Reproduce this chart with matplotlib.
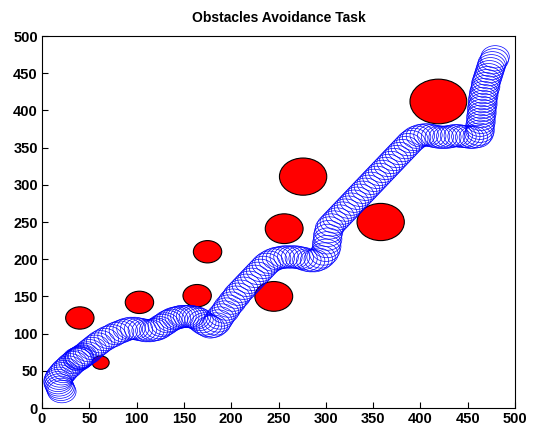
import matplotlib
matplotlib.use("Agg")
import matplotlib.pyplot as plt
from matplotlib.patches import Circle

# Obstacles (centre x, centre y, radius) in data units
obs_x = [40, 62, 103, 164, 175, 245, 256, 276, 358, 419]
obs_y = [121, 61, 142, 151, 210, 150, 241, 311, 250, 412]
obs_r = [15, 9, 15, 15, 15, 20, 20, 25, 25, 30]

# Robot positions along the path
path_x = [21, 20, 19, 18, 17, 17, 18, 19, 21, 23, 25, 28, 30, 33, 35, 38, 40, 42, 39, 37,
          40, 43, 45, 48, 50, 53, 56, 59, 62, 66, 70, 74, 78, 82, 86, 90, 94, 98, 102, 106,
          110, 114, 118, 121, 124, 127, 130, 133, 136, 139, 142, 145, 148, 151, 154, 157, 160, 163, 166, 169,
          172, 175, 178, 181, 184, 186, 188, 190, 193, 195, 197, 200, 202, 205, 207, 210, 213, 216, 219, 222,
          225, 228, 231, 234, 237, 240, 244, 248, 252, 256, 260, 264, 268, 272, 276, 280, 284, 288, 292, 295,
          298, 300, 301, 301, 302, 302, 303, 304, 306, 309, 312, 315, 318, 321, 324, 327, 330, 333, 336, 339,
          342, 345, 348, 351, 354, 357, 360, 363, 366, 369, 372, 375, 378, 381, 384, 387, 390, 393, 396, 400,
          404, 408, 412, 416, 420, 424, 428, 432, 436, 440, 444, 448, 452, 456, 460, 462, 463, 463, 463, 464,
          464, 464, 465, 465, 465, 466, 466, 466, 467, 467, 468, 469, 469, 470, 471, 472, 473, 474, 475, 476,
          478, 479]
path_y = [22, 25, 28, 31, 34, 37, 40, 43, 46, 49, 52, 55, 58, 61, 63, 65, 67, 69, 67, 66,
          68, 70, 72, 74, 77, 80, 83, 86, 89, 92, 95, 97, 100, 102, 104, 106, 107, 107, 106, 105,
          104, 104, 105, 106, 108, 111, 113, 116, 118, 120, 121, 122, 123, 123, 123, 123, 122, 121, 119, 116,
          113, 111, 109, 110, 113, 117, 121, 125, 129, 133, 137, 141, 145, 149, 153, 157, 161, 165, 169, 173,
          177, 181, 185, 189, 193, 196, 199, 201, 202, 203, 203, 203, 203, 202, 201, 199, 198, 198, 200, 203,
          207, 212, 217, 222, 227, 232, 237, 242, 246, 250, 254, 258, 262, 266, 270, 274, 278, 282, 286, 290,
          294, 298, 302, 306, 310, 314, 318, 322, 326, 330, 334, 338, 342, 346, 350, 354, 358, 361, 364, 366,
          367, 367, 366, 365, 364, 364, 364, 365, 366, 366, 365, 365, 364, 364, 365, 368, 372, 376, 380, 384,
          388, 392, 396, 400, 404, 408, 412, 416, 420, 424, 428, 432, 436, 440, 444, 448, 452, 456, 460, 464,
          468, 472]
robot_r = 15

x_ticks = [0, 50, 100, 150, 200, 250, 300, 350, 400, 450, 500]
y_ticks = [0, 50, 100, 150, 200, 250, 300, 350, 400, 450, 500]

plt.rcParams['font.family'] = ['Liberation Sans', 'DejaVu Sans']

fig = plt.figure(figsize=(5.44, 4.26), dpi=100)
ax = fig.add_axes([42/544, 18/426, (515-42)/544, (408-36)/426])

for cx, cy, r in zip(obs_x, obs_y, obs_r):
    ax.add_patch(Circle((cx, cy), r, facecolor='#ff0000', edgecolor='black',
                        linewidth=0.8, zorder=2))

for px, py in zip(path_x, path_y):
    ax.add_patch(Circle((px, py), robot_r, facecolor='none', edgecolor='#0000ff',
                        linewidth=0.5, zorder=3))

ax.set_xlim(0, 500)
ax.set_ylim(0, 500)
ax.set_xticks(x_ticks)
ax.set_yticks(y_ticks)
ax.tick_params(direction='in', length=4, width=0.8, labelsize=10.5, pad=3,
               top=False, right=False)
for lab in ax.get_xticklabels() + ax.get_yticklabels():
    lab.set_fontweight('bold')
for s in ax.spines.values():
    s.set_linewidth(0.8)
ax.set_title('Obstacles Avoidance Task', fontsize=10, fontweight='bold', pad=10)

fig.savefig('out.png', dpi=100)
